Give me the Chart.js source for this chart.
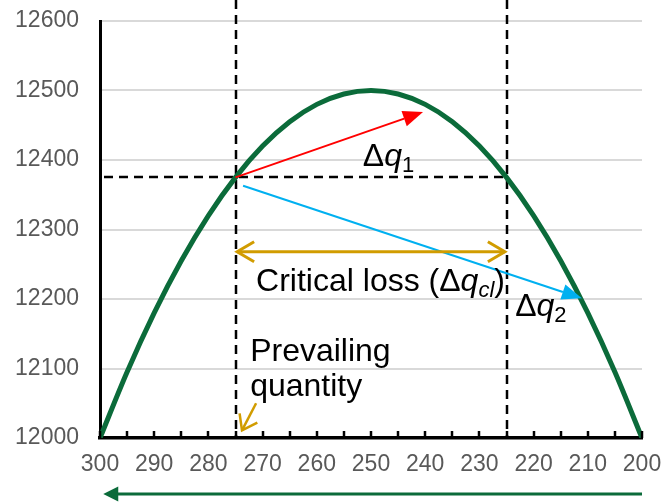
<!DOCTYPE html>
<html>
<head>
<meta charset="utf-8">
<script src="https://cdn.jsdelivr.net/npm/chart.js@4/dist/chart.umd.min.js"></script>
<style>
  html, body { margin: 0; padding: 0; background: #fff; }
  #wrap { width: 664px; height: 502px; position: relative; }
</style>
</head>
<body>
<div id="wrap"><canvas id="chart"></canvas></div>
<script>
// quantity (x, reversed) and value
const quantities = [300, 295, 290, 285, 280, 275, 270, 265, 260, 255, 250,
                    245, 240, 235, 230, 225, 220, 215, 210, 205, 200];
const values = [12000, 12095, 12180, 12255, 12320, 12375, 12420, 12455, 12480, 12495, 12500,
                12495, 12480, 12455, 12420, 12375, 12320, 12255, 12180, 12095, 12000];

const xTicks = [300, 290, 280, 270, 260, 250, 240, 230, 220, 210, 200];
const yTicks = [12000, 12100, 12200, 12300, 12400, 12500, 12600];

// reference markers (data units)
const prevailingQ = 275;
const breakEvenQ = 225;
const prevailingValue = 12375;
const dq1 = [[275, 12375], [240.4, 12469]];
const dq2 = [[273.6, 12363], [211.1, 12201]];
const criticalLoss = [[274.7, 12268], [225.3, 12268]];
const prevailingPointer = [[271.2, 12050], [273.8, 12011]];
const directionArrow = [200, 299.4];

const FONT = '"Liberation Sans", Arial, sans-serif';
const GREEN = "#0b6b3a";
const GOLD = "#d19c00";

function arrowHead(ctx, x1, y1, x2, y2, len, half, filled) {
  const a = Math.atan2(y2 - y1, x2 - x1);
  const bx = x2 - len * Math.cos(a), by = y2 - len * Math.sin(a);
  const nx = -Math.sin(a) * half, ny = Math.cos(a) * half;
  ctx.beginPath();
  ctx.moveTo(bx + nx, by + ny);
  ctx.lineTo(x2, y2);
  ctx.lineTo(bx - nx, by - ny);
  if (filled) { ctx.closePath(); ctx.fill(); } else { ctx.stroke(); }
  return [bx, by];
}

function arrow(ctx, p1, p2, color, width, filled) {
  ctx.save();
  ctx.strokeStyle = color;
  ctx.fillStyle = color;
  ctx.lineWidth = width;
  let end = p2;
  if (filled) end = arrowHead(ctx, p1[0], p1[1], p2[0], p2[1], 20, 8, true);
  ctx.beginPath();
  ctx.moveTo(p1[0], p1[1]);
  ctx.lineTo(end[0], end[1]);
  ctx.stroke();
  if (!filled) arrowHead(ctx, p1[0], p1[1], p2[0], p2[1], 14, 10, false);
  ctx.restore();
}

// text with italic / subscript parts
function richText(ctx, x, y, parts) {
  ctx.save();
  ctx.fillStyle = "#000";
  ctx.textBaseline = "alphabetic";
  ctx.textAlign = "left";
  for (const p of parts) {
    const size = p.sub ? 22 : 32;
    ctx.font = (p.italic ? "italic " : "") + size + "px " + FONT;
    ctx.fillText(p.t, x, y + (p.sub ? 6 : 0));
    x += ctx.measureText(p.t).width;
  }
  ctx.restore();
}

const overlay = {
  id: "overlay",
  beforeDatasetsDraw(chart) {
    const { ctx, chartArea, scales: { x, y } } = chart;
    ctx.save();
    ctx.strokeStyle = "#000";
    ctx.lineWidth = 2.5;
    ctx.setLineDash([9, 6]);
    for (const q of [prevailingQ, breakEvenQ]) {
      const px = Math.round(x.getPixelForValue(q));
      ctx.beginPath();
      ctx.moveTo(px, 0);
      ctx.lineTo(px, chartArea.bottom);
      ctx.stroke();
    }
    const py = Math.round(y.getPixelForValue(prevailingValue));
    ctx.beginPath();
    ctx.moveTo(chartArea.left + 4, py);
    ctx.lineTo(x.getPixelForValue(breakEvenQ), py);
    ctx.stroke();
    ctx.restore();
  },
  afterDatasetsDraw(chart) {
    const { ctx, chartArea, scales: { x, y } } = chart;
    const px = p => [x.getPixelForValue(p[0]), y.getPixelForValue(p[1])];

    arrow(ctx, px(dq1[0]), px(dq1[1]), "#ff0000", 2, true);
    arrow(ctx, px(dq2[0]), px(dq2[1]), "#00b0f0", 2, true);

    // critical loss, double headed
    const a = px(criticalLoss[0]), b = px(criticalLoss[1]);
    ctx.save();
    ctx.strokeStyle = GOLD;
    ctx.lineWidth = 3;
    ctx.beginPath();
    ctx.moveTo(a[0], a[1]);
    ctx.lineTo(b[0], b[1]);
    ctx.stroke();
    arrowHead(ctx, b[0], b[1], a[0], a[1], 17, 10, false);
    arrowHead(ctx, a[0], a[1], b[0], b[1], 17, 10, false);
    ctx.restore();

    arrow(ctx, px(prevailingPointer[0]), px(prevailingPointer[1]), GOLD, 2.5, false);

    // tick marks every 5 on the x axis
    ctx.save();
    ctx.strokeStyle = "#000";
    ctx.lineWidth = 2.5;
    for (let i = 0; i < quantities.length; i++) {
      const tx = Math.round(x.getPixelForValue(quantities[i]));
      ctx.beginPath();
      ctx.moveTo(tx, chartArea.bottom);
      ctx.lineTo(tx, chartArea.bottom - 7);
      ctx.stroke();
    }
    ctx.restore();

    // direction arrow under the axis
    ctx.save();
    ctx.strokeStyle = GREEN;
    ctx.fillStyle = GREEN;
    ctx.lineWidth = 3;
    const ay = 494;
    const ax1 = x.getPixelForValue(directionArrow[0]), ax2 = x.getPixelForValue(directionArrow[1]);
    ctx.beginPath();
    ctx.moveTo(ax1, ay);
    ctx.lineTo(ax2 + 10, ay);
    ctx.stroke();
    arrowHead(ctx, ax1, ay, ax2, ay, 15, 7.5, true);
    ctx.restore();

    // labels
    const t = (q, v) => [x.getPixelForValue(q), y.getPixelForValue(v)];
    let p = t(251.5, 12392);
    richText(ctx, p[0], p[1], [{ t: "Δ" }, { t: "q", italic: true }, { t: "1", sub: true }]);
    p = t(271.2, 12211);
    richText(ctx, p[0], p[1], [{ t: "Critical loss (Δ" }, { t: "q", italic: true },
                               { t: "cl", italic: true, sub: true }, { t: ")" }]);
    p = t(223.4, 12175);
    richText(ctx, p[0], p[1], [{ t: "Δ" }, { t: "q", italic: true }, { t: "2", sub: true }]);
    p = t(272.3, 12111);
    richText(ctx, p[0], p[1], [{ t: "Prevailing" }]);
    p = t(272.3, 12061);
    richText(ctx, p[0], p[1], [{ t: "quantity" }]);
  }
};

new Chart(document.getElementById("chart"), {
  type: "line",
  data: {
    datasets: [{
      data: quantities.map((q, i) => ({ x: q, y: values[i] })),
      borderColor: GREEN,
      borderWidth: 5,
      pointRadius: 0,
      cubicInterpolationMode: "monotone",
      fill: false
    }]
  },
  options: {
    responsive: true,
    maintainAspectRatio: false,
    animation: false,
    layout: { padding: { top: 21, right: 22, bottom: 0, left: 0 } },
    plugins: { legend: { display: false }, tooltip: { enabled: false } },
    scales: {
      x: {
        type: "linear",
        reverse: true,
        min: 200,
        max: 300,
        afterFit: s => { s.height = 64; s.paddingLeft = 0; s.paddingRight = 0; },
        afterBuildTicks: s => { s.ticks = xTicks.map(v => ({ value: v })); },
        grid: { display: false, drawTicks: false },
        border: { display: true, color: "#000", width: 3.5 },
        ticks: { color: "#595959", font: { family: FONT, size: 23 }, padding: 13, maxRotation: 0,
                 callback: v => String(v) }
      },
      y: {
        min: 12000,
        max: 12600,
        afterFit: s => { s.width = 100; s.paddingTop = 0; s.paddingBottom = 0; },
        afterBuildTicks: s => { s.ticks = yTicks.map(v => ({ value: v })); },
        grid: { color: "#d9d9d9", lineWidth: 2, drawTicks: false },
        border: { display: true, color: "#000", width: 3 },
        ticks: { color: "#595959", font: { family: FONT, size: 23 }, padding: 21,
                 callback: v => String(v) }
      }
    }
  },
  plugins: [overlay]
});
</script>
</body>
</html>
